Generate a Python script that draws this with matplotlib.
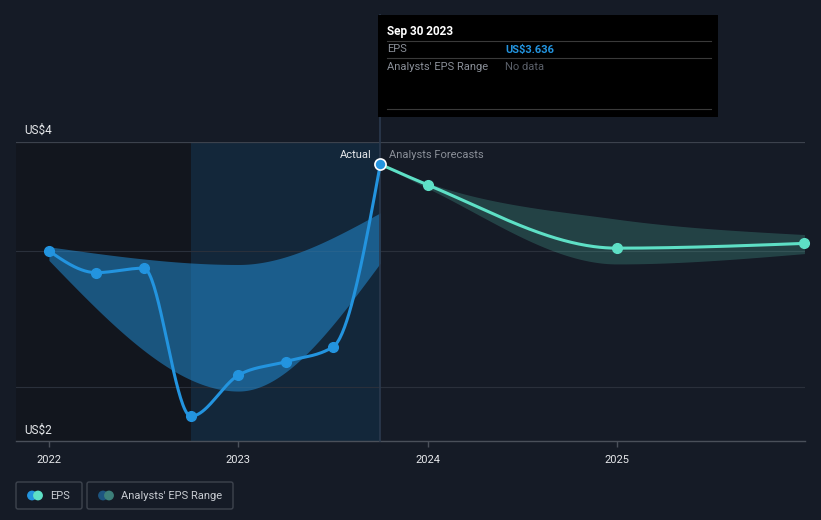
import matplotlib
matplotlib.use("Agg")
import matplotlib.pyplot as plt
import numpy as np
from matplotlib.patches import FancyBboxPatch, Circle, Rectangle
from matplotlib.transforms import blended_transform_factory

plt.rcParams['font.family'] = ['Roboto', 'DejaVu Sans']

# --- data (decimal years) ---
eps_dates = [2022.0, 2022.25, 2022.5, 2022.75, 2023.0, 2023.25, 2023.5, 2023.75]
eps_values = [3.00, 2.84, 2.873, 1.785, 2.086, 2.186, 2.294, 3.636]

past_range_dates = [2022.0, 2023.0, 2023.75]
past_range_upper = [3.03, 2.90, 3.28]
past_range_lower = [2.93, 1.97, 2.91]

fc_dates = [2023.75, 2024.0, 2025.0, 2025.99]
fc_values = [3.636, 3.485, 3.02, 3.055]
fc_upper = [3.636, 3.50, 3.233, 3.12]
fc_lower = [3.636, 3.46, 2.904, 2.98]

year_ticks = [2022, 2023, 2024, 2025]
year_labels = ['2022', '2023', '2024', '2025']
grid_values = [2.0, 3.0]
x_range = (2021.826, 2025.993)
y_range = (1.603, 3.80)
highlight_start = 2022.75

BG = '#151b26'
BLUE = '#2394df'
TEAL = '#5ee0c6'


def monotone(x, y, n=300):
    # monotone cubic (Fritsch-Carlson), like d3.curveMonotoneX
    x = np.asarray(x, float)
    y = np.asarray(y, float)
    h = np.diff(x)
    s = np.diff(y) / h
    m = np.zeros_like(y)
    for i in range(1, len(y) - 1):
        if s[i - 1] * s[i] <= 0:
            m[i] = 0
        else:
            p = (s[i - 1] * h[i] + s[i] * h[i - 1]) / (h[i - 1] + h[i])
            m[i] = np.sign(s[i - 1]) * min(2 * abs(s[i - 1]), 2 * abs(s[i]), abs(p))
    m[0] = (3 * s[0] - m[1]) / 2 if len(y) > 2 else s[0]
    m[-1] = (3 * s[-1] - m[-2]) / 2 if len(y) > 2 else s[-1]
    xs, ys = [], []
    for i in range(len(h)):
        t = np.linspace(0, 1, max(n // len(h), 20))
        h00 = 2 * t ** 3 - 3 * t ** 2 + 1
        h10 = t ** 3 - 2 * t ** 2 + t
        h01 = -2 * t ** 3 + 3 * t ** 2
        h11 = t ** 3 - t ** 2
        xs.append(x[i] + t * h[i])
        ys.append(h00 * y[i] + h10 * h[i] * m[i] + h01 * y[i + 1] + h11 * h[i] * m[i + 1])
    return np.concatenate(xs), np.concatenate(ys)


W, H = 821, 520
fig = plt.figure(figsize=(W / 100, H / 100), dpi=100, facecolor=BG)
ax = fig.add_axes([16 / W, 1 - 441 / H, 789 / W, 299 / H], facecolor=BG)
ax.set_xlim(*x_range)
ax.set_ylim(*y_range)

# background regions
ax.axvspan(x_range[0], highlight_start, color='#12161e', lw=0, zorder=0)
ax.axvspan(highlight_start, eps_dates[-1], color='#13273a', lw=0, zorder=0)

# grid lines
for g in grid_values:
    ax.axhline(g, color='#2a303b', lw=0.8, zorder=1)
ax.axhline(y_range[1], color='#3c424d', lw=0.9, zorder=1)

# past analysts range
bx, bu = monotone(past_range_dates, past_range_upper)
_, bl = monotone(past_range_dates, past_range_lower)
ax.fill_between(bx, bl, bu, color=BLUE, alpha=0.5, lw=0, zorder=2)

# forecast range
fx, fu = monotone(fc_dates, fc_upper)
_, fl = monotone(fc_dates, fc_lower)
ax.fill_between(fx, fl, fu, color=TEAL, alpha=0.2, lw=0, zorder=2)

# vertical line at latest actual
ax.axvline(eps_dates[-1], ymin=0, ymax=(441 - 15) / 299, color='#2b3a4e', lw=1.2,
           clip_on=False, zorder=3)

# EPS line
ex, ey = monotone(eps_dates, eps_values)
ax.plot(ex, ey, color=BLUE, lw=2.2, zorder=4, solid_capstyle='round')
ax.plot(eps_dates[:-1], eps_values[:-1], 'o', color=BLUE, ms=7, zorder=5)

# forecast line
cx, cy = monotone(fc_dates, fc_values)
ax.plot(cx, cy, color=TEAL, lw=2.2, zorder=4, solid_capstyle='round')
ax.plot(fc_dates[1:], fc_values[1:], 'o', color=TEAL, ms=7, zorder=5, clip_on=False)
ax.plot(eps_dates[-1], eps_values[-1], 'o', color=BLUE, mec='white', mew=1.2, ms=8, zorder=6)

# axes styling
for sp in ['top', 'right', 'left']:
    ax.spines[sp].set_visible(False)
ax.spines['bottom'].set_color('#4a505a')
ax.spines['bottom'].set_linewidth(1)
ax.set_yticks([])
ax.set_xticks(year_ticks)
ax.set_xticklabels(year_labels)
ax.tick_params(axis='x', colors='#4a505a', length=4, width=1, pad=6, labelsize=8,
               labelcolor='#e6e8eb')

trans = blended_transform_factory(ax.transAxes, ax.transData)
ax.annotate('US$4', xy=(0.01, y_range[1]), xycoords=trans, xytext=(0, 4),
            textcoords='offset points', ha='left', va='bottom', color='#e6e8eb', fontsize=8.5)
ax.annotate('US$2', xy=(0.01, y_range[0]), xycoords=trans, xytext=(0, 3),
            textcoords='offset points', ha='left', va='bottom', color='#e6e8eb', fontsize=8.5)

trans2 = blended_transform_factory(ax.transData, ax.transAxes)
ax.annotate('Actual', xy=(eps_dates[-1], 1), xycoords=trans2, xytext=(-6, -9),
            textcoords='offset points', ha='right', va='center', color='#e6e8eb', fontsize=8)
ax.annotate('Analysts Forecasts', xy=(eps_dates[-1], 1), xycoords=trans2, xytext=(6, -9),
            textcoords='offset points', ha='left', va='center', color='#8a8f98', fontsize=8)

# tooltip
tip = fig.add_axes([378 / W, 1 - 117 / H, 340 / W, 102 / H], facecolor='black')
tip.set_xlim(0, 340)
tip.set_ylim(102, 0)
tip.axis('off')
tip.add_patch(Rectangle((0, 0), 340, 102, color='black', zorder=0))
tip.text(9, 16, 'Sep 30 2023', color='white', fontsize=8.5, fontweight='bold', va='center')
for yl in [26, 43, 94]:
    tip.plot([9, 333], [yl, yl], color='#3a3a3a', lw=0.8)
tip.text(9, 34.5, 'EPS', color='#8a8f98', fontsize=8, va='center')
tip.text(127, 34.5, 'US$3.636', color=BLUE, fontsize=8, fontweight='bold', va='center')
tip.text(9, 51.5, "Analysts' EPS Range", color='#8a8f98', fontsize=8, va='center')
tip.text(127, 51.5, 'No data', color='#5a5f68', fontsize=8, va='center')

# legend
leg = fig.add_axes([0, 0, 1, 1], facecolor='none')
leg.set_xlim(0, W)
leg.set_ylim(H, 0)
leg.axis('off')
items = [('EPS', BLUE, TEAL, 16, 82), ("Analysts' EPS Range", '#1d5580', '#3d807a', 87, 233)]
for label, c1, c2, x0, x1 in items:
    leg.add_patch(FancyBboxPatch((x0, 482), x1 - x0, 27, boxstyle='round,pad=0,rounding_size=2',
                                 fc='none', ec='#3e444e', lw=1))
    leg.add_patch(Circle((x0 + 16, 495.5), 4.2, color=c1))
    leg.add_patch(Circle((x0 + 22, 495.5), 4.2, color=c2))
    leg.text(x0 + 34, 496, label, color='#c8ccd2', fontsize=8, va='center', ha='left')

fig.savefig('out.png', dpi=100, facecolor=BG)
